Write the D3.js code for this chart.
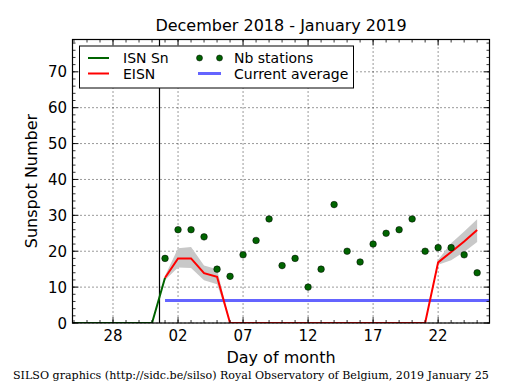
<!DOCTYPE html>
<html><head><meta charset="utf-8">
<script src="https://cdn.jsdelivr.net/npm/d3@7"></script>
<style>body{margin:0;background:#fff}svg{display:block}text{font-family:"DejaVu Sans",sans-serif}</style>
</head><body><svg id="c" width="515" height="390"></svg>
<script>
// ---- data ----
const isnDates = ["2018-12-24","2018-12-25","2018-12-26","2018-12-27","2018-12-28","2018-12-29","2018-12-30","2018-12-31","2019-01-01"];
const isnValues = [0,0,0,0,0,0,0,0,12.6];
const janDays = d3.range(1,26).map(d => "2019-01-" + String(d).padStart(2,"0"));
const eisnValues = [12.6,18,18,13.9,12.9,0,0,0,0,0,0,0,0,0,0,0,0,0,0,0,0,16.9,19.8,22.7,25.9];
const eisnLow  = [12.0,15.5,15.3,11.9,10.8,0,0,0,0,0,0,0,0,0,0,0,0,0,0,0,0,16.2,17.5,19.8,22.6];
const eisnHigh = [13.2,20.8,21.2,16.0,15.0,0,0,0,0,0,0,0,0,0,0,0,0,0,0,0,0,17.6,22.2,25.5,28.9];
const stations = [18,26,26,24,15,13,19,23,29,16,18,10,15,33,20,17,22,25,26,29,20,21,21,19,14];
const avgDates = ["2019-01-01","2019-01-26"];
const avgValue = 6.3;
const monthBoundary = "2018-12-31T13:00:00Z";
const xTickDates = ["2018-12-28","2019-01-02","2019-01-07","2019-01-12","2019-01-17","2019-01-22"];
const yTicks = [0,10,20,30,40,50,60,70];
const title = "December 2018 - January 2019";
const footer = "SILSO graphics (http://sidc.be/silso) Royal Observatory of Belgium, 2019 January 25";

// ---- layout ----
const P = {l:72.5, r:489.5, t:39.5, b:323};
const svg = d3.select("#c");
const pd = s => new Date(s.length === 10 ? s + "T00:00:00Z" : s);
const x = d3.scaleUtc().domain([new Date(Date.UTC(2018,11,24,21,14)), new Date(Date.UTC(2019,0,25,22,48))]).range([P.l,P.r]);
const y = d3.scaleLinear().domain([0,79]).range([P.b,P.t]);

svg.append("defs").append("clipPath").attr("id","clip").append("rect")
  .attr("x",P.l).attr("y",P.t).attr("width",P.r-P.l).attr("height",P.b-P.t);

// grid
const g = svg.append("g");
yTicks.forEach(v => g.append("line").attr("x1",P.l).attr("x2",P.r).attr("y1",y(v)).attr("y2",y(v))
  .attr("stroke","#000").attr("stroke-width",0.8).attr("stroke-dasharray","1,3"));
xTickDates.forEach(d => g.append("line").attr("y1",P.t).attr("y2",P.b).attr("x1",x(pd(d))).attr("x2",x(pd(d)))
  .attr("stroke","#000").attr("stroke-width",0.8).attr("stroke-dasharray","1,3"));

const plot = svg.append("g").attr("clip-path","url(#clip)");

// band
const jan = janDays.map(pd);
plot.append("path").datum(d3.range(jan.length))
  .attr("d", d3.area().x(i => x(jan[i])).y0(i => y(eisnLow[i])).y1(i => y(eisnHigh[i])))
  .attr("fill","#c8c8c8").attr("stroke","none");

// month boundary
plot.append("line").attr("x1",Math.round(x(pd(monthBoundary)))+0.5).attr("x2",Math.round(x(pd(monthBoundary)))+0.5)
  .attr("y1",P.t).attr("y2",P.b).attr("stroke","#000").attr("stroke-width",1.2);

// current average
plot.append("line").attr("x1",x(pd(avgDates[0]))).attr("x2",x(pd(avgDates[1])))
  .attr("y1",y(avgValue)).attr("y2",y(avgValue)).attr("stroke","#6464ff").attr("stroke-width",3);

// ISN
const isnD = isnDates.map(pd);
plot.append("path").datum(d3.range(isnD.length))
  .attr("d", d3.line().x(i => x(isnD[i])).y(i => y(isnValues[i])))
  .attr("fill","none").attr("stroke","#006400").attr("stroke-width",2);

// EISN
plot.append("path").datum(d3.range(jan.length))
  .attr("d", d3.line().x(i => x(jan[i])).y(i => y(eisnValues[i])))
  .attr("fill","none").attr("stroke","#ff0000").attr("stroke-width",2);

// stations
plot.selectAll("circle.s").data(stations).enter().append("circle")
  .attr("cx",(d,i) => x(jan[i])).attr("cy",d => y(d)).attr("r",3.3)
  .attr("fill","#006400").attr("stroke","#000").attr("stroke-width",0.5);

// frame
svg.append("rect").attr("x",P.l).attr("y",P.t).attr("width",P.r-P.l).attr("height",P.b-P.t)
  .attr("fill","none").attr("stroke","#000").attr("stroke-width",1.2);

// ticks
const ax = svg.append("g").attr("stroke","#000").attr("stroke-width",0.8);
const minorDays = d3.utcDay.range(x.domain()[0], x.domain()[1]);
minorDays.forEach(d => {
  const xx = x(d);
  ax.append("line").attr("x1",xx).attr("x2",xx).attr("y1",P.b).attr("y2",P.b-3);
  ax.append("line").attr("x1",xx).attr("x2",xx).attr("y1",P.t).attr("y2",P.t+3);
});
xTickDates.forEach(d => {
  const xx = x(pd(d));
  ax.append("line").attr("x1",xx).attr("x2",xx).attr("y1",P.b).attr("y2",P.b-6);
  ax.append("line").attr("x1",xx).attr("x2",xx).attr("y1",P.t).attr("y2",P.t+6);
});
d3.range(0,79,2).forEach(v => {
  ax.append("line").attr("x1",P.l).attr("x2",P.l+3).attr("y1",y(v)).attr("y2",y(v));
  ax.append("line").attr("x1",P.r).attr("x2",P.r-3).attr("y1",y(v)).attr("y2",y(v));
});
yTicks.forEach(v => {
  ax.append("line").attr("x1",P.l).attr("x2",P.l+6).attr("y1",y(v)).attr("y2",y(v));
  ax.append("line").attr("x1",P.r).attr("x2",P.r-6).attr("y1",y(v)).attr("y2",y(v));
});

// tick labels
const fmt = d3.utcFormat("%d");
xTickDates.forEach(d => svg.append("text").attr("x",x(pd(d))).attr("y",341).attr("text-anchor","middle")
  .attr("font-size",15).text(fmt(pd(d))));
yTicks.forEach(v => svg.append("text").attr("x",67).attr("y",y(v)+5.5).attr("text-anchor","end")
  .attr("font-size",15).text(v));

// labels
svg.append("text").attr("x",281).attr("y",31).attr("text-anchor","middle").attr("font-size",16).text(title);
svg.append("text").attr("x",281).attr("y",363).attr("text-anchor","middle").attr("font-size",16).text("Day of month");
svg.append("text").attr("transform","translate(36.5,181) rotate(-90)").attr("text-anchor","middle").attr("font-size",16).text("Sunspot Number");
svg.append("text").attr("x",13).attr("y",379).style("font-family","'DejaVu Serif', serif").attr("font-size",11.1).text(footer);

// legend
const L = svg.append("g");
L.append("rect").attr("x",79.5).attr("y",46).attr("width",274).attr("height",42).attr("fill","#fff").attr("stroke","#000").attr("stroke-width",1);
L.append("line").attr("x1",88).attr("x2",109).attr("y1",58).attr("y2",58).attr("stroke","#006400").attr("stroke-width",2);
L.append("line").attr("x1",88).attr("x2",109).attr("y1",73.5).attr("y2",73.5).attr("stroke","#ff0000").attr("stroke-width",2);
[199.5,219.5].forEach(cx => L.append("circle").attr("cx",cx).attr("cy",58).attr("r",3).attr("fill","#006400").attr("stroke","#000").attr("stroke-width",0.5));
L.append("line").attr("x1",198).attr("x2",221).attr("y1",73.5).attr("y2",73.5).attr("stroke","#6464ff").attr("stroke-width",3);
const lt = [["ISN Sn",123,63],["EISN",123,78.5],["Nb stations",234,63],["Current average",234,78.5]];
lt.forEach(([t,xx,yy]) => L.append("text").attr("x",xx).attr("y",yy).attr("font-size",14).text(t));
</script></body></html>
